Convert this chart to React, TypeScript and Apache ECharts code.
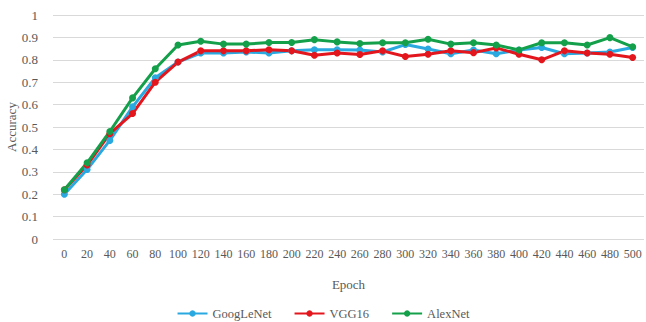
import React, { useEffect, useRef } from "react";
import * as echarts from "echarts";

const epochs = ["0","20","40","60","80","100","120","140","160","180","200","220","240","260","280","300","320","340","360","380","400","420","440","460","480","500"];
const googLeNet = [0.20,0.31,0.44,0.59,0.72,0.79,0.83,0.83,0.835,0.83,0.84,0.845,0.845,0.844,0.835,0.868,0.848,0.827,0.844,0.827,0.844,0.855,0.827,0.83,0.835,0.855];
const vgg16 = [0.22,0.33,0.47,0.56,0.70,0.79,0.84,0.84,0.84,0.845,0.84,0.82,0.83,0.824,0.84,0.815,0.825,0.84,0.832,0.853,0.825,0.80,0.84,0.83,0.825,0.81];
const alexNet = [0.22,0.34,0.48,0.63,0.76,0.866,0.883,0.87,0.87,0.877,0.877,0.89,0.88,0.873,0.876,0.876,0.892,0.87,0.876,0.866,0.844,0.876,0.876,0.866,0.899,0.858];
const yTicks = [0, 0.1, 0.2, 0.3, 0.4, 0.5, 0.6, 0.7, 0.8, 0.9, 1];

const FONT = "'Liberation Serif', 'DejaVu Serif', serif";
const TXT = "#595959";

export default function App() {
  const ref = useRef<HTMLDivElement>(null);
  useEffect(() => {
    if (!ref.current) return;
    const chart = echarts.init(ref.current, undefined, { renderer: "svg" });
    const mk = (name: string, data: number[], color: string) => ({
      name,
      type: "line",
      data,
      symbol: "circle",
      symbolSize: 7,
      lineStyle: { width: 3, color },
      itemStyle: { color },
    });
    chart.setOption({
      animation: false,
      textStyle: { fontFamily: FONT },
      grid: { left: 53, right: 2, top: 15, bottom: 83, containLabel: false, outerBoundsMode: "none" },
      legend: {
        top: 302,
        left: "center",
        itemWidth: 30,
        itemHeight: 8,
        itemGap: 22,
        textStyle: { color: TXT, fontFamily: FONT, fontSize: 12.5 },
        data: ["GoogLeNet", "VGG16", "AlexNet"],
      },
      xAxis: {
        type: "category",
        data: epochs,
        boundaryGap: true,
        axisLine: { show: false },
        axisTick: { show: false },
        axisLabel: { color: TXT, fontFamily: FONT, fontSize: 12, margin: 9, interval: 0 },
        name: "Epoch",
        nameLocation: "middle",
        nameGap: 39,
        nameMoveOverlap: false,
        nameTextStyle: { color: TXT, fontFamily: FONT, fontSize: 13 },
      },
      yAxis: {
        type: "value",
        min: 0,
        max: 1,
        interval: 0.1,
        axisLine: { show: false },
        axisTick: { show: false },
        splitLine: { lineStyle: { color: "#d9d9d9", width: 1 } },
        axisLabel: {
          color: TXT,
          fontFamily: FONT,
          fontSize: 13,
          margin: 15,
          formatter: (v: number) => {
            const t = yTicks.find((x) => Math.abs(x - v) < 1e-6);
            return t === undefined ? "" : String(t);
          },
        },
        name: "Accuracy",
        nameLocation: "middle",
        nameGap: 35,
        nameMoveOverlap: false,
        nameTextStyle: { color: TXT, fontFamily: FONT, fontSize: 13 },
      },
      series: [
        mk("GoogLeNet", googLeNet, "#2aa8e0"),
        mk("VGG16", vgg16, "#e3161d"),
        mk("AlexNet", alexNet, "#14a04a"),
      ],
    });
    return () => chart.dispose();
  }, []);
  return <div ref={ref} style={{ width: 646, height: 322, position: "absolute", left: 0, top: 0, background: "#fff" }} />;
}
